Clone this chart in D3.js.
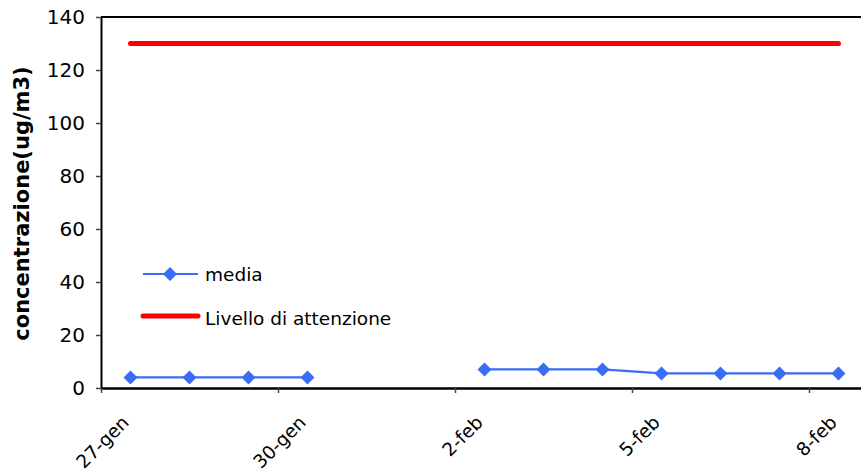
<!DOCTYPE html>
<html><head><meta charset="utf-8">
<script src="https://cdn.jsdelivr.net/npm/d3@7"></script>
<style>
html,body{margin:0;padding:0;background:#fff;}
svg{display:block;}
text{font-family:"DejaVu Sans",Verdana,sans-serif;fill:#000;}
</style></head>
<body>
<script>
const dates = ["27-gen","28-gen","29-gen","30-gen","31-gen","1-feb","2-feb","3-feb","4-feb","5-feb","6-feb","7-feb","8-feb"];
const media = [4,4,4,4,null,null,7,7,7,5.5,5.5,5.5,5.5];
const attenzione = [130,130,130,130,130,130,130,130,130,130,130,130,130];
const yTicks = [0,20,40,60,80,100,120,140];
const xTickIdx = [0,3,6,9,12];
const seriesNames = ["media","Livello di attenzione"];

const W = 861, H = 475;
const m = {left:101, top:17, right:868, bottom:388};
const svg = d3.select("body").append("svg").attr("width",W).attr("height",H);

const x = d3.scaleLinear().domain([0,dates.length]).range([m.left,m.right]);
const y = d3.scaleLinear().domain([0,140]).range([m.bottom,m.top]);

// plot border (top)
svg.append("line").attr("x1",m.left).attr("x2",m.right).attr("y1",m.top).attr("y2",m.top)
  .attr("stroke","#000").attr("stroke-width",2);

// y axis
const ya = svg.append("g").attr("transform",`translate(${m.left},0)`)
  .call(d3.axisLeft(y).tickValues(yTicks).tickSize(5).tickPadding(11).tickSizeOuter(0));
ya.select(".domain").attr("stroke","#000").attr("stroke-width",2);
ya.selectAll(".tick line").attr("stroke","#444").attr("stroke-width",1.5);
ya.selectAll("text").style("font-size","20px").style("font-family","DejaVu Sans").attr("fill","#000");

// x axis
const xa = svg.append("g").attr("transform",`translate(0,${m.bottom})`)
  .call(d3.axisBottom(x).tickValues(xTickIdx).tickFormat(i=>dates[i]).tickSize(5).tickSizeOuter(0));
xa.select(".domain").attr("stroke","#000").attr("stroke-width",2.5);
xa.selectAll(".tick line").attr("stroke","#444").attr("stroke-width",1.5);
xa.selectAll("text").style("font-size","18.5px").style("font-family","DejaVu Sans").attr("fill","#000")
  .attr("text-anchor","end").attr("dy","0.35em")
  .attr("transform","translate(24,31) rotate(-45)").attr("y",0);

// y title
svg.append("text").attr("transform",`translate(29,${(m.top+m.bottom)/2+1}) rotate(-90)`)
  .attr("text-anchor","middle").style("font-weight","bold").style("font-size","21px")
  .text("concentrazione(ug/m3)");

// attention line
const lineA = d3.line().x((d,i)=>x(i+0.5)).y(d=>y(d));
svg.append("path").datum(attenzione).attr("d",lineA).attr("fill","none")
  .attr("stroke","#ff0000").attr("stroke-width",5).attr("stroke-linecap","round");

// media line
const blue = "#3a6cf6";
const lineM = d3.line().defined(d=>d!=null).x((d,i)=>x(i+0.5)).y(d=>y(d));
svg.append("path").datum(media).attr("d",lineM).attr("fill","none")
  .attr("stroke",blue).attr("stroke-width",2.2);
svg.selectAll(".pt").data(media.map((v,i)=>({v,i})).filter(d=>d.v!=null)).enter()
  .append("path").attr("d","M0,-7L7,0L0,7L-7,0Z")
  .attr("transform",d=>`translate(${x(d.i+0.5)},${y(d.v)})`).attr("fill",blue);

// legend
const lg = svg.append("g");
lg.append("line").attr("x1",143).attr("x2",198).attr("y1",274).attr("y2",274).attr("stroke",blue).attr("stroke-width",2.2);
lg.append("path").attr("d","M0,-7L7,0L0,7L-7,0Z").attr("transform","translate(170,274)").attr("fill",blue);
lg.append("text").attr("x",205).attr("y",281).style("font-size","18.5px").text(seriesNames[0]);
lg.append("line").attr("x1",143).attr("x2",198).attr("y1",316).attr("y2",316).attr("stroke","#ff0000").attr("stroke-width",5).attr("stroke-linecap","round");
lg.append("text").attr("x",205).attr("y",325).style("font-size","18.5px").text(seriesNames[1]);
</script>
</body></html>
